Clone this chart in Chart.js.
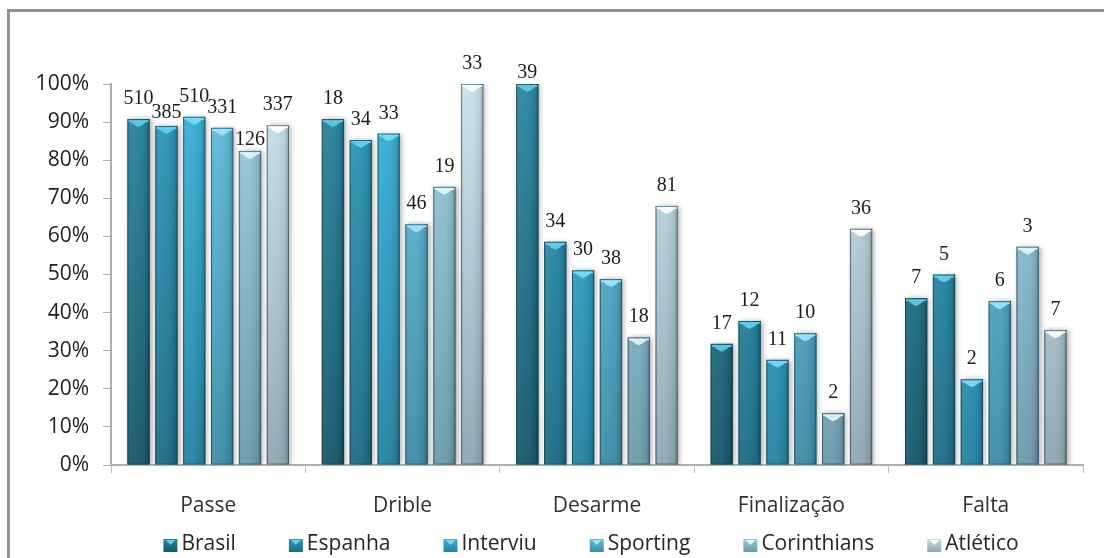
<!DOCTYPE html>
<html lang="pt-BR">
<head>
<meta charset="utf-8">
<title>Desempenho por fundamento</title>
<script src="https://cdn.jsdelivr.net/npm/chart.js@4.4.1/dist/chart.umd.min.js"></script>
<style>
  html, body { margin: 0; padding: 0; background: #fff; overflow: hidden; }
  #moldura {
    position: absolute; left: 7px; top: 9px; width: 1300px; height: 800px;
    border-left: 3px solid #939393; border-top: 3px solid #939393;
  }
  #grafico { position: absolute; left: 0; top: 0; }
</style>
</head>
<body>
<div id="moldura"></div>
<canvas id="grafico" width="1104" height="558"></canvas>
<script>
// Dados
const categorias = ['Passe', 'Drible', 'Desarme', 'Finalização', 'Falta'];
const equipes = ['Brasil', 'Espanha', 'Interviu', 'Sporting', 'Corinthians', 'Atlético'];

// percentual de acerto (%)
const brasil      = [90.8, 90.8, 100, 31.8, 43.8];
const espanha     = [89.0, 85.3, 58.6, 37.8, 50.0];
const interviu    = [91.4, 87.0, 51.1, 27.6, 22.5];
const sporting    = [88.5, 63.2, 48.8, 34.6, 43.0];
const corinthians = [82.4, 73.0, 33.5, 13.6, 57.3];
const atletico    = [89.2, 100, 68.0, 62.0, 35.4];

// número de ações (rótulo de cada barra)
const brasilN      = [510, 18, 39, 17, 7];
const espanhaN     = [385, 34, 34, 12, 5];
const interviuN    = [510, 33, 30, 11, 2];
const sportingN    = [331, 46, 38, 10, 6];
const corinthiansN = [126, 19, 18, 2, 3];
const atleticoN    = [337, 33, 81, 36, 7];

const ticksY = [0, 10, 20, 30, 40, 50, 60, 70, 80, 90, 100];

// Estilo de cada série: topo, base, tampa
const cores = [
  { topo: '#2a87a1', base: '#17586a', meio: '#1f6f86', tampa: '#5ccbe8' },
  { topo: '#2f9aba', base: '#1d6c85', meio: '#2684a2', tampa: '#62d2ef' },
  { topo: '#3bb3d9', base: '#2482a1', meio: '#2e9abd', tampa: '#74def8' },
  { topo: '#63bfdf', base: '#3d8ca6', meio: '#50a6c4', tampa: '#9be6fa' },
  { topo: '#9bcee1', base: '#6c9aac', meio: '#82b5c8', tampa: '#dff6fd' },
  { topo: '#c8e3ed', base: '#8ea7b2', meio: '#a9c6d2', tampa: '#ffffff' }
];

const valores = [brasil, espanha, interviu, sporting, corinthians, atletico];
const contagens = [brasilN, espanhaN, interviuN, sportingN, corinthiansN, atleticoN];

// distância (px) do rótulo até o topo da barra, quando difere do padrão
const afastamento = { '0,1': 8, '0,4': 6, '2,0': 6 };

const FONTE = "'Open Sans', 'DejaVu Sans', sans-serif";

function gradienteVertical(ctx, area, c) {
  const g = ctx.createLinearGradient(0, area.top, 0, area.bottom);
  g.addColorStop(0, c.topo);
  g.addColorStop(1, c.base);
  return g;
}

// Sombra leve atrás das barras
const sombraPlugin = {
  id: 'sombra',
  beforeDatasetsDraw(chart) {
    const ctx = chart.ctx;
    ctx.save();
    ctx.shadowColor = 'rgba(0,0,0,0.32)';
    ctx.shadowBlur = 5;
    ctx.shadowOffsetX = 2;
    ctx.shadowOffsetY = 0;
  },
  afterDatasetsDraw(chart) {
    chart.ctx.restore();
  }
};

// Brilho lateral, tampa chanfrada e rótulos
const acabamentoPlugin = {
  id: 'acabamento',
  afterDatasetsDraw(chart) {
    const ctx = chart.ctx;
    chart.data.datasets.forEach((ds, di) => {
      const meta = chart.getDatasetMeta(di);
      const c = cores[di];
      meta.data.forEach((bar, i) => {
        const w = bar.width;
        const esq = bar.x - w / 2;
        const dir = bar.x + w / 2;
        const topo = bar.y;
        const base = bar.base;

        ctx.save();
        // sombreamento horizontal
        const gh = ctx.createLinearGradient(esq, 0, dir, 0);
        gh.addColorStop(0, 'rgba(0,0,0,0.20)');
        gh.addColorStop(0.12, 'rgba(255,255,255,0.06)');
        gh.addColorStop(0.45, 'rgba(255,255,255,0.04)');
        gh.addColorStop(0.85, 'rgba(0,0,0,0.08)');
        gh.addColorStop(1, 'rgba(0,0,0,0.30)');
        ctx.fillStyle = gh;
        ctx.fillRect(esq, topo, w, base - topo);

        // tampa
        ctx.fillStyle = c.tampa;
        ctx.globalAlpha = 0.9;
        ctx.fillRect(esq + 1, topo + 1, w - 2, 2);
        ctx.beginPath();
        ctx.moveTo(esq + 2, topo + 2);
        ctx.lineTo(dir - 2, topo + 2);
        ctx.lineTo(bar.x + w * 0.18, topo + 6);
        ctx.lineTo(bar.x, topo + 8);
        ctx.lineTo(bar.x - w * 0.18, topo + 6);
        ctx.closePath();
        ctx.fill();
        ctx.globalAlpha = 1;

        // contorno
        ctx.strokeStyle = 'rgba(20,50,60,0.45)';
        ctx.lineWidth = 1;
        ctx.strokeRect(esq + 0.5, topo + 0.5, w - 1, base - topo - 1);
        ctx.restore();

        // rótulo
        const gap = afastamento[i + ',' + di] ?? 15;
        ctx.save();
        ctx.font = "20px 'Liberation Serif', 'DejaVu Serif', serif";
        ctx.fillStyle = '#1b1b1b';
        ctx.textAlign = 'center';
        ctx.textBaseline = 'alphabetic';
        ctx.fillText(String(contagens[di][i]), bar.x, topo - gap);
        ctx.restore();
      });
    });
  }
};

// Legenda desenhada abaixo do eixo
const legendaPlugin = {
  id: 'legendaPropria',
  afterDraw(chart) {
    const ctx = chart.ctx;
    const area = chart.chartArea;
    const y = 545;
    const caixa = 14;
    const espaco = 53;
    ctx.save();
    ctx.font = '21px ' + FONTE;
    const larguras = equipes.map((t) => caixa + 4 + ctx.measureText(t).width);
    const total = larguras.reduce((a, b) => a + b, 0) + espaco * (equipes.length - 1);
    let x = (area.left + area.right) / 2 - 6 - total / 2;
    equipes.forEach((t, k) => {
      const c = cores[k];
      const g = ctx.createLinearGradient(0, y - caixa / 2, 0, y + caixa / 2);
      g.addColorStop(0, c.topo);
      g.addColorStop(1, c.base);
      ctx.fillStyle = g;
      ctx.fillRect(x, y - caixa / 2 + 1, caixa, caixa - 1);
      ctx.fillStyle = c.tampa;
      ctx.beginPath();
      ctx.moveTo(x + 2, y - caixa / 2 + 2);
      ctx.lineTo(x + caixa - 2, y - caixa / 2 + 2);
      ctx.lineTo(x + caixa / 2, y);
      ctx.closePath();
      ctx.fill();
      ctx.fillStyle = '#262626';
      ctx.textAlign = 'left';
      ctx.textBaseline = 'middle';
      ctx.fillText(t, x + caixa + 4, y - 1);
      x += larguras[k] + espaco;
    });
    ctx.restore();
  }
};

const ctxGrafico = document.getElementById('grafico').getContext('2d');
const grafico = new Chart(ctxGrafico, {
  type: 'bar',
  data: {
    labels: categorias,
    datasets: equipes.map((nome, k) => ({
      label: nome,
      data: valores[k],
      backgroundColor: (context) => {
        const area = context.chart.chartArea;
        if (!area) return cores[k].meio;
        return gradienteVertical(context.chart.ctx, area, cores[k]);
      },
      borderWidth: 0,
      categoryPercentage: 0.86,
      barPercentage: 0.8
    }))
  },
  options: {
    responsive: false,
    animation: false,
    devicePixelRatio: 1,
    layout: { padding: { left: 20, right: 21, top: 84, bottom: 30 } },
    plugins: {
      legend: { display: false },
      tooltip: { enabled: false }
    },
    scales: {
      x: {
        grid: {
          offset: true,
          drawOnChartArea: false,
          drawTicks: true,
          tickLength: 8,
          color: '#bdbdbd'
        },
        border: { color: '#b0b0b0', width: 2 },
        ticks: {
          color: '#303030',
          font: { family: FONTE, size: 21 },
          padding: 20
        },
        afterFit: (s) => { s.height = 63; }
      },
      y: {
        min: 0,
        max: 100,
        afterBuildTicks: (s) => { s.ticks = ticksY.map((v) => ({ value: v })); },
        grid: {
          drawOnChartArea: false,
          drawTicks: true,
          tickLength: 8,
          color: '#b0b0b0'
        },
        border: { color: '#b0b0b0', width: 2 },
        ticks: {
          color: '#1e1e1e',
          font: { family: FONTE, size: 21 },
          padding: 14,
          callback: (v) => v + '%'
        },
        afterFit: (s) => { s.width = 91; }
      }
    }
  },
  plugins: [sombraPlugin, acabamentoPlugin, legendaPlugin]
});
</script>
</body>
</html>
